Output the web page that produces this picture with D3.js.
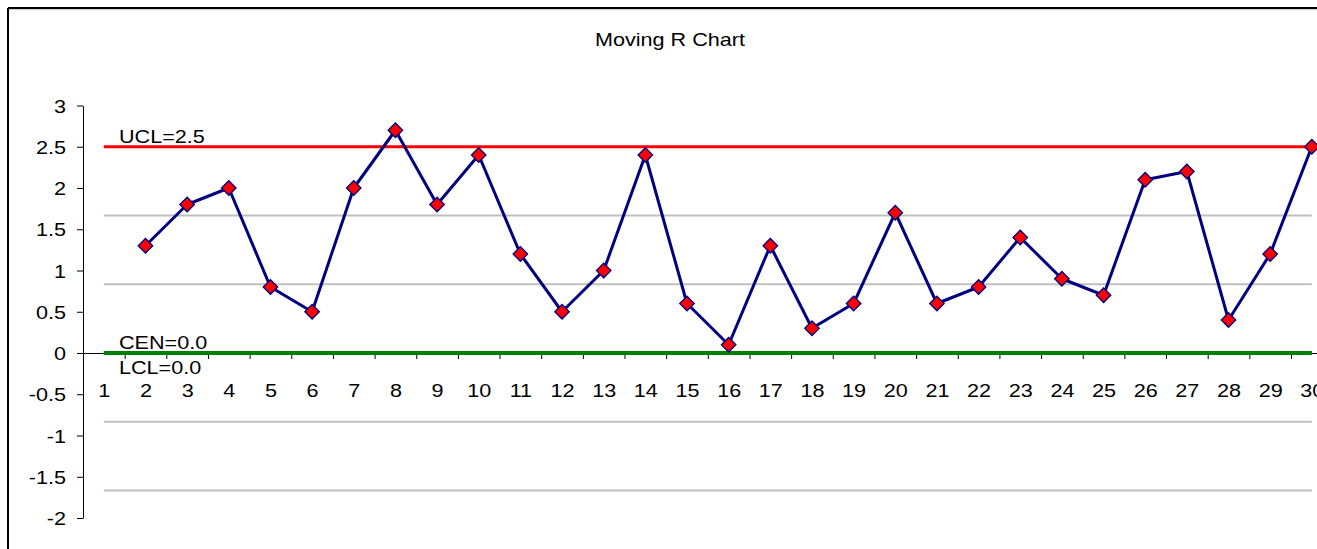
<!DOCTYPE html>
<html>
<head>
<meta charset="utf-8">
<script src="https://cdn.jsdelivr.net/npm/d3@7"></script>
<style>
  html, body { margin: 0; padding: 0; background: #fff; }
  svg { display: block; font-family: "Liberation Sans", Arial, sans-serif; }
</style>
</head>
<body>
<svg id="chart" width="1317" height="549"></svg>
<script>
// Moving ranges, one per sample (sample 1 has no range)
const samples = d3.range(1, 31);
const movingRange = [null, 1.3, 1.8, 2.0, 0.8, 0.5, 2.0, 2.7, 1.8, 2.4, 1.2, 0.5, 1.0, 2.4, 0.6,
                     0.1, 1.3, 0.3, 0.6, 1.7, 0.6, 0.8, 1.4, 0.9, 0.7, 2.1, 2.2, 0.4, 1.2, 2.5];
const yTicks = [3, 2.5, 2, 1.5, 1, 0.5, 0, -0.5, -1, -1.5, -2];
const ucl = 2.5, cen = 0.0, lcl = 0.0;
// sigma zone lines at one and two sigma either side of the centre
const zoneLines = [ucl / 3, 2 * ucl / 3, -ucl / 3, -2 * ucl / 3];
const limitLabels = [
  { text: "UCL=2.5", value: ucl, dy: -4 },
  { text: "CEN=0.0", value: cen, dy: -4 },
  { text: "LCL=0.0", value: lcl, dy: 21 }
];
const title = "Moving R Chart";

const svg = d3.select("#chart");
const SX = 1.2;           // horizontal text stretch
const FONT = 18;

const plotLeft = 83, bandW = 41.655;
const x = d3.scaleLinear().domain([0.5, 30.5]).range([plotLeft, plotLeft + 30 * bandW]);
const y = d3.scaleLinear().domain([-2, 3]).range([518, 105.5]);

function stretchedText(sel, tx, ty, str, anchor, size) {
  return sel.append("text")
    .attr("transform", `translate(${tx},${ty}) scale(${SX},1)`)
    .attr("text-anchor", anchor)
    .attr("font-size", size)
    .attr("fill", "#000")
    .text(str);
}

// outer frame
svg.append("line").attr("x1", 8).attr("x2", 1317).attr("y1", 9.7).attr("y2", 9.7)
  .attr("stroke", "#c8c8c8").attr("stroke-width", 1);
svg.append("line").attr("x1", 8).attr("x2", 1317).attr("y1", 8).attr("y2", 8)
  .attr("stroke", "#000").attr("stroke-width", 2);
svg.append("line").attr("x1", 8).attr("x2", 8).attr("y1", 8).attr("y2", 549)
  .attr("stroke", "#000").attr("stroke-width", 2);

// title
stretchedText(svg, 670, 46, title, "middle", FONT);

// sigma zone lines
svg.append("g").selectAll("line").data(zoneLines).join("line")
  .attr("x1", x(1)).attr("x2", x(30))
  .attr("y1", d => y(d)).attr("y2", d => y(d))
  .attr("stroke", "#c0c0c0").attr("stroke-width", 2);

// y axis
const yAxis = svg.append("g").attr("transform", `translate(${plotLeft},0)`)
  .call(d3.axisLeft(y).tickValues(yTicks).tickSize(6).tickSizeOuter(0));
yAxis.select(".domain").attr("stroke", "#000");
yAxis.selectAll(".tick line").attr("stroke", "#000");
yAxis.selectAll(".tick text").remove();
yAxis.selectAll(".tick").each(function (d) {
  stretchedText(d3.select(this), -17, 6.5, String(d), "end", FONT);
});

// x axis at zero with tick marks between samples
const xAxis = svg.append("g").attr("transform", `translate(0,${y(0)})`)
  .call(d3.axisBottom(x).tickValues(d3.range(0.5, 31, 1)).tickSize(6).tickSizeOuter(0).tickFormat(""));
xAxis.select(".domain").attr("stroke", "#000");
xAxis.selectAll(".tick line").attr("stroke", "#000");

const xLabels = svg.append("g").attr("transform", `translate(0,${y(0)})`)
  .call(d3.axisBottom(x).tickValues(samples).tickSize(0).tickFormat(""));
xLabels.select(".domain").remove();
xLabels.selectAll(".tick").each(function (d) {
  stretchedText(d3.select(this), 0, 44, String(d), "middle", FONT);
});

// control limits
svg.append("line").attr("x1", x(1)).attr("x2", x(30)).attr("y1", y(lcl)).attr("y2", y(lcl))
  .attr("stroke", "#ff0000").attr("stroke-width", 3);
svg.append("line").attr("x1", x(1)).attr("x2", x(30)).attr("y1", y(cen)).attr("y2", y(cen))
  .attr("stroke", "#008000").attr("stroke-width", 4);
svg.append("line").attr("x1", x(1)).attr("x2", x(30)).attr("y1", y(ucl)).attr("y2", y(ucl))
  .attr("stroke", "#ff0000").attr("stroke-width", 3);

limitLabels.forEach(l => stretchedText(svg, 119, y(l.value) + l.dy, l.text, "start", FONT));

// moving range line and markers
const pts = samples.map((s, i) => ({ s, v: movingRange[i] })).filter(p => p.v !== null);
svg.append("path").datum(pts)
  .attr("fill", "none").attr("stroke", "#000080").attr("stroke-width", 3)
  .attr("stroke-linejoin", "round")
  .attr("d", d3.line().x(p => x(p.s)).y(p => y(p.v)));

const diamond = d3.symbol().type(d3.symbolSquare).size(105);
svg.append("g").selectAll("path").data(pts).join("path")
  .attr("transform", p => `translate(${x(p.s)},${y(p.v)}) rotate(45)`)
  .attr("d", diamond)
  .attr("fill", "#ff0000").attr("stroke", "#000080").attr("stroke-width", 1.3);
</script>
</body>
</html>
